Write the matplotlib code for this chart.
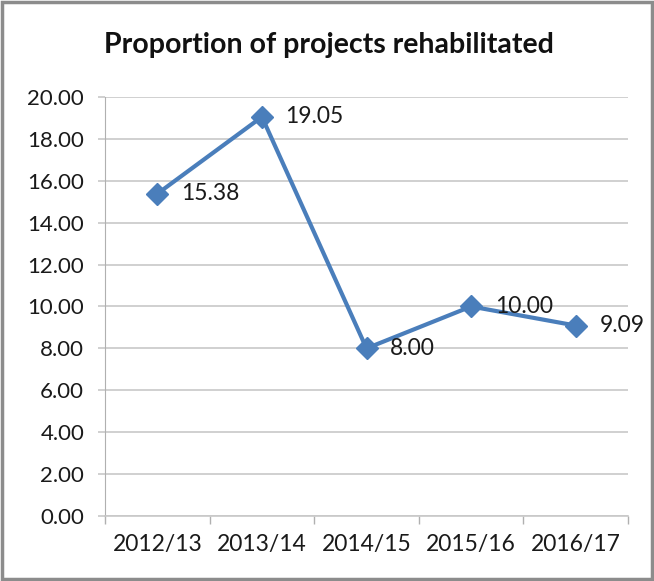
import matplotlib
matplotlib.use("Agg")
import matplotlib.pyplot as plt
from matplotlib.patches import Rectangle

categories = ["2012/13", "2013/14", "2014/15", "2015/16", "2016/17"]
values = [15.38, 19.05, 8.00, 10.00, 9.09]
yticks = [0, 2, 4, 6, 8, 10, 12, 14, 16, 18, 20]

plt.rcParams['font.family'] = ['Lato', 'DejaVu Sans']

fig = plt.figure(figsize=(6.54, 5.81), dpi=100)
fig.patches.append(Rectangle((0.003, 0.003), 0.994, 0.994, transform=fig.transFigure,
                             fill=False, edgecolor="#8c8c8c", linewidth=2.5))
ax = fig.add_axes([0.1606, 0.1119, 0.7996, 0.7212])

x = list(range(len(categories)))
ax.plot(x, values, color="#4a7ebb", linewidth=3, marker="D", markersize=11,
        markerfacecolor="#4a7ebb", markeredgecolor="#4a7ebb", zorder=3)
for xi, v in zip(x, values):
    ax.annotate(f"{v:.2f}", (xi, v), xytext=(17, 0), textcoords="offset points",
                va="center", ha="left", fontsize=16.5, color="#1a1a1a", zorder=4)

ax.set_xlim(-0.5, len(categories) - 0.5)
ax.set_ylim(0, 20)
ax.set_yticks(yticks)
ax.set_yticklabels([f"{t:.2f}" for t in yticks], fontsize=16, color="#1a1a1a")
ax.set_xticks(x)
ax.set_xticklabels(categories, fontsize=16.5, color="#1a1a1a")
ax.tick_params(axis="x", length=0, pad=13)
ax.set_xticks([i - 0.5 for i in range(len(categories) + 1)], minor=True)
ax.tick_params(axis="x", which="minor", length=6, color="#b0b0b0", width=1)
ax.tick_params(axis="y", length=5, color="#c8c8c8", width=1.2, pad=10)
ax.grid(axis="y", color="#c8c8c8", linewidth=1.2)
ax.set_axisbelow(True)
for s in ["top", "right"]:
    ax.spines[s].set_visible(False)
ax.spines["left"].set_color("#b0b0b0")
ax.spines["bottom"].set_color("#c8c8c8")
ax.spines["bottom"].set_linewidth(1.2)

fig.text(0.503, 0.922, "Proportion of projects rehabilitated", ha="center", va="center",
         fontsize=20.5, fontweight="bold", color="#111111")

fig.savefig("out.png", dpi=100)
